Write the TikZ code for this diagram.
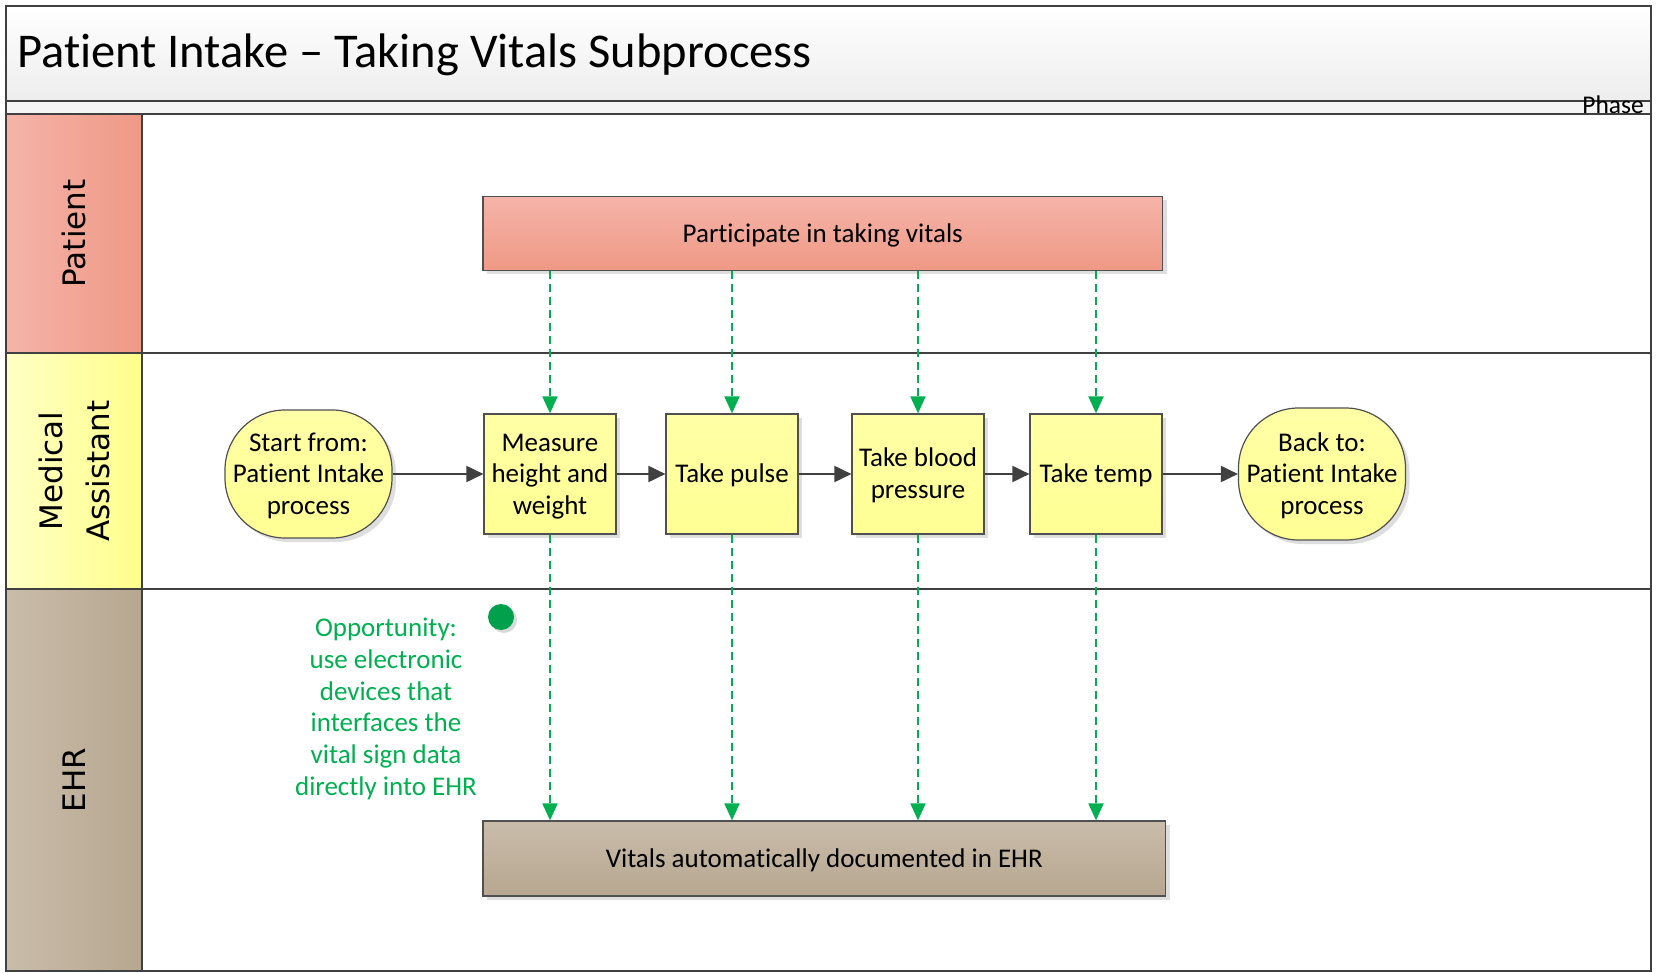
\documentclass[tikz,border=0pt]{standalone}
\usepackage{fontspec}
\setmainfont{Carlito}[Ligatures={NoCommon,TeX}]
\newfontfamily\lanefont{DejaVu Sans}
\usetikzlibrary{arrows.meta,shadows}
\definecolor{frameline}{HTML}{404040}
\definecolor{boxline}{HTML}{505050}
\definecolor{pinkA}{HTML}{F5B4A9}
\definecolor{pinkB}{HTML}{EF9985}
\definecolor{yelA}{HTML}{FFFFC4}
\definecolor{yelB}{HTML}{FFFF8C}
\definecolor{boxyA}{HTML}{FFFFA6}
\definecolor{boxyB}{HTML}{FFFF94}
\definecolor{tanA}{HTML}{C9BCAA}
\definecolor{tanB}{HTML}{B7A790}
\definecolor{oppgreen}{HTML}{00B050}
\definecolor{dotgreen}{HTML}{00A04C}
\newcommand\boxlines[1]{\raisebox{-2.5pt}[\height][\depth]{\begin{tabular}{@{}c@{}}#1\end{tabular}}}
\begin{document}
\begin{tikzpicture}[x=1pt,y=-1pt,
  frame/.style={draw=frameline,line width=2pt},
  boxshadow/.style={drop shadow={shadow xshift=4pt,shadow yshift=-4pt,fill=black!13,opacity=1}},
  boxtext/.style={font=\fontsize{27}{31.7}\selectfont,align=center,inner sep=2pt},
  procbox/.style={boxtext,draw=boxline,line width=1.2pt,top color=boxyA,bottom color=boxyB,
     minimum width=132pt,minimum height=120pt,boxshadow},
  termbox/.style={boxtext,draw=boxline,line width=1.2pt,top color=boxyA,bottom color=boxyB,
     rounded corners=60pt,minimum width=167pt,minimum height=128pt,boxshadow},
  lanelabel/.style={rotate=90,font=\lanefont\fontsize{31}{47}\selectfont,align=center},
  flow/.style={draw=frameline,line width=2pt,-{Triangle[width=16pt,length=17pt]}},
  dataflow/.style={draw=oppgreen,line width=2pt,dash pattern=on 8pt off 5pt,
     -{Triangle[width=15pt,length=17pt]}}
]
\useasboundingbox (0,0) rectangle (1657,973);
% title and phase bands
\shade[top color=white,bottom color=black!7] (6,6) rectangle (1651,101);
\fill[black!4] (6,101) rectangle (1651,114);
% lane label fills
\shade[left color=pinkA,right color=pinkB] (6,114) rectangle (141.6,353);
\shade[left color=yelA,right color=yelB] (6,353) rectangle (141.6,589);
\shade[left color=tanA,right color=tanB] (6,589) rectangle (141.6,971);
% lines
\draw[frame] (6,6) rectangle (1651,971);
\draw[frame] (6,101) -- (1651,101);
\draw[frame] (6,114) -- (1651,114);
\draw[frame] (6,353) -- (1651,353);
\draw[frame] (6,589) -- (1651,589);
\draw[frame] (141.6,114) -- (141.6,971);
% texts of title, phase, lanes
\node[anchor=base west,inner sep=0pt,font=\fontsize{48.5}{52}\selectfont] (title) at (17,68) {Patient Intake – Taking Vitals Subprocess};
\node[anchor=base east,inner sep=0pt,font=\fontsize{25.5}{28}\selectfont] (phase) at (1644,114) {Phase};
\node[lanelabel] (lanep) at (74,233.5) {Patient};
\node[lanelabel] (lanem) at (74,471) {Medical\\Assistant};
\node[lanelabel] (lanee) at (74,780) {EHR};
% process nodes
\node[boxtext,draw=boxline,line width=1.2pt,top color=pinkA,bottom color=pinkB,
  minimum width=679.5pt,minimum height=74pt,boxshadow] (part) at (822.75,233.5) {\boxlines{Participate in taking vitals}};
\node[termbox] (start) at (308.5,474) {\boxlines{Start from:\\Patient Intake\\process}};
\node[procbox] (measure) at (550,474) {\boxlines{Measure\\height and\\weight}};
\node[procbox] (pulse) at (732,474) {\boxlines{Take pulse}};
\node[procbox] (bp) at (918,474) {\boxlines{Take blood\\pressure}};
\node[procbox] (temp) at (1096,474) {\boxlines{Take temp}};
\node[termbox,minimum height=132pt] (back) at (1322,474) {\boxlines{Back to:\\Patient Intake\\process}};
\node[boxtext,draw=boxline,line width=1.2pt,top color=tanA,bottom color=tanB,
  minimum width=682.6pt,minimum height=75pt,boxshadow] (ehrbox) at (824.3,858.5) {\boxlines{Vitals automatically documented in EHR}};
% opportunity note
\node[circle,fill=dotgreen,minimum size=26pt,inner sep=0pt,
  drop shadow={shadow xshift=3pt,shadow yshift=-3pt,fill=black!15,opacity=1}] (dot) at (501,617) {};
\node[boxtext,text=oppgreen] (opp) at (386,709) {Opportunity:\\use electronic\\devices that\\interfaces the\\vital sign data\\directly into EHR};
% solid flow
\draw[flow] (start.east) -- (measure.west);
\draw[flow] (measure.east) -- (pulse.west);
\draw[flow] (pulse.east) -- (bp.west);
\draw[flow] (bp.east) -- (temp.west);
\draw[flow] (temp.east) -- (back.west);
% dashed data flows
\foreach \b in {measure,pulse,bp,temp}{
  \draw[dataflow] (part.south -| \b.north) -- (\b.north);
  \draw[dataflow] (\b.south) -- (\b.south |- ehrbox.north);
}
\end{tikzpicture}
\end{document}
